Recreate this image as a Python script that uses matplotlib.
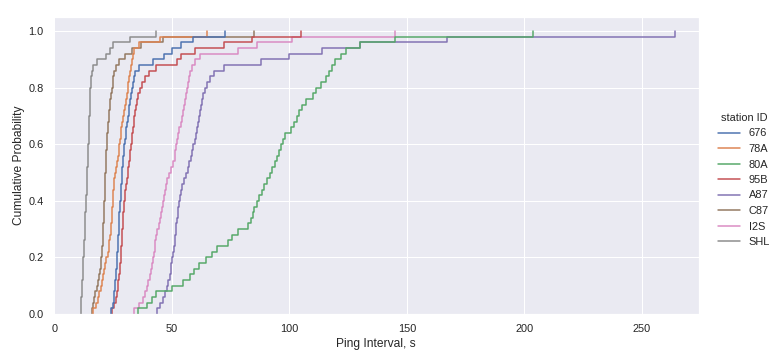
import numpy as np
import pandas as pd
import matplotlib
matplotlib.use("Agg")
import matplotlib.pyplot as plt
import seaborn as sns

stations = ["676", "78A", "80A", "95B", "A87", "C87", "I2S", "SHL"]

s_676 = [24.0, 24.8, 25.2, 25.5, 25.7, 25.9, 26.1, 26.3, 26.4, 26.6, 26.8, 26.9, 27.05, 27.2, 27.3,
         27.4, 27.5, 27.65, 27.8, 27.95, 28.1, 28.25, 28.4, 28.55, 28.7, 28.85, 29.0, 29.15, 29.4, 29.7,
         30.0, 30.3, 30.5, 30.8, 31.2, 31.6, 31.9, 32.3, 32.7, 33.0, 33.3, 33.7, 34.2, 36.0, 42.0,
         46.5, 50.0, 54.0, 59.0, 72.4]
s_78A = [16.5, 17.5, 18.4, 19.0, 19.6, 20.1, 20.7, 21.2, 21.6, 22.1, 22.6, 23.0, 23.4, 23.7, 24.0,
         24.2, 24.3, 24.5, 24.6, 24.7, 24.85, 25.0, 25.3, 25.5, 25.9, 26.3, 26.7, 27.0, 27.3, 27.6,
         27.9, 28.2, 28.5, 28.8, 29.1, 29.5, 29.9, 30.3, 30.7, 31.1, 31.5, 31.9, 32.2, 32.5, 32.8,
         33.3, 34.0, 36.0, 45.0, 65.0]
s_80A = [35.5, 39.5, 41.5, 43.0, 50.0, 54.5, 57.5, 59.5, 61.5, 64.5, 67.0, 69.0, 74.0, 75.5, 78.0,
         82.5, 83.8, 84.3, 85.0, 86.0, 87.0, 88.2, 89.3, 90.5, 91.7, 92.7, 93.7, 94.7, 95.7, 96.5,
         97.3, 98.3, 100.5, 102.0, 103.2, 104.2, 105.2, 107.0, 110.0, 111.3, 113.5, 115.5, 116.8, 118.0, 119.5,
         122.0, 124.0, 130.0, 145.0, 203.6]
s_95B = [24.6, 25.4, 26.0, 26.5, 26.9, 27.2, 27.5, 27.75, 27.95, 28.1, 28.3, 28.45, 28.6, 28.75, 28.9,
         29.05, 29.2, 29.35, 29.55, 29.7, 29.85, 30.2, 30.5, 30.8, 31.1, 31.4, 31.7, 32.0, 32.3, 32.6,
         32.8, 33.1, 33.4, 33.7, 34.0, 34.4, 34.8, 35.2, 35.7, 36.5, 37.3, 38.5, 40.2, 43.0, 52.0,
         54.0, 60.0, 72.0, 84.0, 105.0]
s_A87 = [43.5, 44.8, 46.0, 47.0, 47.8, 48.4, 49.0, 49.4, 49.8, 50.2, 50.5, 50.8, 51.1, 51.4, 51.6,
         51.8, 52.1, 52.4, 52.7, 53.0, 53.4, 53.9, 54.4, 55.0, 55.9, 56.8, 57.4, 58.0, 58.5, 59.0,
         59.6, 60.1, 60.6, 61.0, 61.5, 61.9, 62.4, 62.9, 63.4, 64.0, 64.8, 66.0, 68.0, 72.0, 88.0,
         100.0, 114.0, 130.0, 167.0, 264.0]
s_C87 = [15.8, 16.3, 16.8, 17.3, 18.1, 18.7, 19.1, 19.5, 19.8, 20.0, 20.2, 20.35, 20.5, 20.6, 20.7,
         20.8, 20.9, 21.0, 21.1, 21.2, 21.3, 21.4, 21.5, 21.6, 21.7, 21.8, 21.9, 22.0, 22.1, 22.2,
         22.3, 22.5, 22.7, 22.9, 23.1, 23.3, 23.5, 23.8, 24.1, 24.4, 24.7, 25.0, 25.4, 26.0, 27.5,
         30.0, 33.0, 37.0, 46.0, 85.0]
s_I2S = [33.8, 36.0, 37.6, 38.6, 39.4, 40.0, 40.6, 41.1, 41.5, 41.9, 42.3, 42.6, 42.9, 43.2, 43.8,
         44.4, 44.9, 45.3, 45.7, 46.1, 46.5, 46.9, 47.3, 47.9, 48.8, 49.7, 50.5, 51.2, 51.5, 51.8,
         52.2, 52.7, 53.2, 53.7, 54.2, 54.6, 55.0, 55.5, 55.9, 56.4, 56.9, 57.3, 57.8, 58.5, 60.0,
         62.0, 78.0, 86.0, 101.0, 145.0]
s_SHL = [11.1, 11.3, 11.5, 11.7, 11.8, 11.9, 12.0, 12.1, 12.2, 12.35, 12.45, 12.6, 12.7, 12.8, 12.9,
         13.0, 13.1, 13.2, 13.3, 13.45, 13.55, 13.7, 13.8, 13.9, 14.0, 14.05, 14.15, 14.25, 14.35, 14.45,
         14.55, 14.6, 14.7, 14.8, 14.85, 14.95, 15.0, 15.1, 15.2, 15.3, 15.4, 15.6, 15.8, 16.3, 18.0,
         22.0, 23.5, 25.0, 32.0, 43.0]

samples = [s_676, s_78A, s_80A, s_95B, s_A87, s_C87, s_I2S, s_SHL]

df = pd.DataFrame({
    "Ping Interval, s": np.concatenate([np.asarray(s, float) for s in samples]),
    "station ID": np.concatenate([[st] * len(s) for st, s in zip(stations, samples)]),
})

sns.set_theme(style="darkgrid")
plt.rcParams["font.family"] = ["Liberation Sans", "DejaVu Sans"]

fig = plt.figure(figsize=(780 / 72, 360 / 72), dpi=72)
ax = fig.add_axes([53.3 / 780, 1 - 314 / 360, (699 - 53.3) / 780, (314 - 17) / 360])
sns.ecdfplot(data=df, x="Ping Interval, s", hue="station ID", hue_order=stations, ax=ax)
ax.set_xlim(-0.5, 274.3)
ax.set_ylim(0, 1.05)
ax.set_ylabel("Cumulative Probability")
ax.set_xlabel("Ping Interval, s")
sns.move_legend(ax, "center left", bbox_to_anchor=(708 / 780, 0.5),
                bbox_transform=fig.transFigure, frameon=False,
                fontsize=11, title_fontsize=11)

fig.savefig("out.png", dpi=72)
